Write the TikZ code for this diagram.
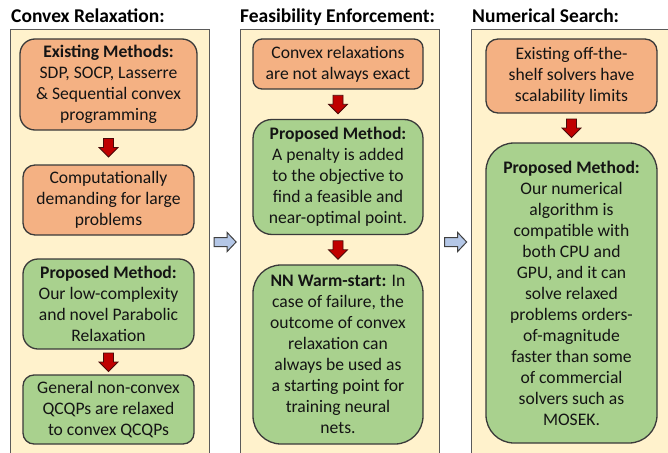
\documentclass[tikz,border=0pt]{standalone}
\usepackage{fontspec}
\setmainfont{Carlito}
\usetikzlibrary{calc}

\definecolor{panelfill}{HTML}{FFF2CC}
\definecolor{panelline}{HTML}{5A5A5A}
\definecolor{orangefill}{HTML}{F4B183}
\definecolor{greenfill}{HTML}{A9D18E}
\definecolor{boxline}{HTML}{3A3A3A}
\definecolor{redfill}{HTML}{C00000}
\definecolor{redline}{HTML}{4A0A0A}
\definecolor{bluefill}{HTML}{B4C7E7}
\definecolor{blueline}{HTML}{404040}
\definecolor{inktext}{HTML}{141414}

\tikzset{
  panel/.style={draw=panelline, fill=panelfill, line width=1.3pt,
    anchor=north west, inner sep=0pt, minimum width=#1},
  heading/.style={anchor=base west, inner sep=0pt, text=black,
    font=\fontsize{19.5}{23}\selectfont\bfseries},
  box/.style={draw=boxline, line width=1.3pt, align=center, inner sep=0pt,
    text=inktext, font=\fontsize{17.6}{21}\selectfont},
  orangebox/.style={box, fill=orangefill},
  greenbox/.style={box, fill=greenfill},
  downblock/.pic={
    \path[draw=redline, fill=redfill, line width=0.8pt, line join=miter]
      (-5,-9) -- (5,-9) -- (5,0) -- (9.5,0) -- (0,9.5) -- (-9.5,0) -- (-5,0) -- cycle;
  },
  rightblock/.pic={
    \path[draw=blueline, fill=bluefill, line width=1pt, line join=miter]
      (-11,-4.5) -- (2,-4.5) -- (2,-9.5) -- (11,0) -- (2,9.5) -- (2,4.5) -- (-11,4.5) -- cycle;
  }
}

\begin{document}
\begin{tikzpicture}[x=1pt, y=-1pt]
\useasboundingbox[fill=white] (0,0) rectangle (668,452);
\clip (0,0) rectangle (668,452);

% three column panels, open at the bottom edge
\node[panel=199pt, minimum height=431pt] (pa) at (10,29) {};
\node[panel=199pt, minimum height=431pt] (pb) at (240,29) {};
\node[panel=240pt, minimum height=431pt] (pc) at (471,29) {};

% column headings
\node[heading] (ha) at (11,23) {Convex Relaxation:};
\node[heading] (hb) at (240,23) {Feasibility Enforcement:};
\node[heading] (hc) at (472,23) {Numerical Search:};

% first column
\node[orangebox, minimum width=177pt, minimum height=91pt, rounded corners=15pt] (a1) at (108.5,84.5)
  {\textbf{Existing Methods:}\\SDP, SOCP, Lasserre\\\& Sequential convex\\programming};
\node[orangebox, minimum width=171pt, minimum height=70pt, rounded corners=12pt] (a2) at (108.5,200)
  {Computationally\\demanding for large\\problems};
\node[greenbox, minimum width=171pt, minimum height=90pt, rounded corners=15pt] (a3) at (108.5,304)
  {\textbf{Proposed Method:}\\Our low-complexity\\and novel Parabolic\\Relaxation};
\node[greenbox, minimum width=171pt, minimum height=69pt, rounded corners=11pt] (a4) at (108.5,409.5)
  {General non-convex\\QCQPs are relaxed\\to convex QCQPs};

% second column
\node[orangebox, minimum width=170pt, minimum height=50pt, rounded corners=9pt] (b1) at (338,64)
  {Convex relaxations\\are not always exact};
\node[greenbox, minimum width=170pt, minimum height=115pt, rounded corners=19pt] (b2) at (338,177)
  {\textbf{Proposed Method:}\\A penalty is added\\to the objective to\\find a feasible and\\near-optimal point.};
\node[greenbox, minimum width=170pt, minimum height=179pt, rounded corners=28pt] (b3) at (338,354.5)
  {\textbf{NN Warm-start:} In\\case of failure, the\\outcome of convex\\relaxation can\\always be used as\\a starting point for\\training neural\\nets.};

% third column
\node[orangebox, minimum width=171pt, minimum height=74pt, rounded corners=12pt] (c1) at (571.5,76)
  {Existing off-the-\\shelf solvers have\\scalability limits};
\node[greenbox, minimum width=171pt, minimum height=300pt, rounded corners=28pt] (c2) at (571.5,293)
  {\textbf{Proposed Method:}\\Our numerical\\algorithm is\\compatible with\\both CPU and\\GPU, and it can\\solve relaxed\\problems orders-\\of-magnitude\\faster than some\\of commercial\\solvers such as\\MOSEK.};

% red block arrows inside the columns
\pic at ($(a1.south)!0.5!(a2.north)$) {downblock};
\pic at ($(a3.south)!0.5!(a4.north)$) {downblock};
\pic at ($(b1.south)!0.5!(b2.north)$) {downblock};
\pic at ($(b2.south)!0.5!(b3.north)$) {downblock};
\pic at ($(c1.south)!0.5!(c2.north)$) {downblock};

% blue block arrows between the columns
\pic at ($(pa.east |- 0,242)!0.5!(pb.west |- 0,242)$) {rightblock};
\pic at ($(pb.east |- 0,242)!0.5!(pc.west |- 0,242)$) {rightblock};
\end{tikzpicture}
\end{document}
